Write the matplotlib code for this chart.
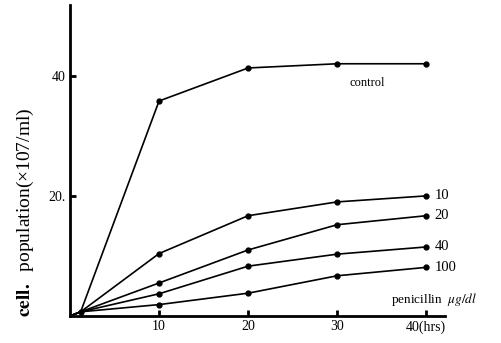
import matplotlib.pyplot as plt

plt.rcParams['font.family'] = ['Liberation Serif', 'DejaVu Serif']
plt.rcParams['mathtext.fontset'] = 'stix'

# === Données ===
hours = [0, 10, 20, 30, 40]
control = [0, 35.8, 41.3, 42.0, 42.0]
pen_10 = [0, 10.4, 16.7, 19.0, 20.0]
pen_20 = [0, 5.5, 11.0, 15.2, 16.7]
pen_40 = [0, 3.7, 8.3, 10.3, 11.5]
pen_100 = [0, 1.9, 3.8, 6.7, 8.1]
series = [control, pen_10, pen_20, pen_40, pen_100]
end_labels = ["10", "20", "40", "100"]
start_x, start_y = 1.2, 0.7
xticks = [10, 20, 30, 40]
xtick_labels = ["10", "20", "30", "40(hrs)"]
yticks = [20, 40]
ytick_labels = ["20.", "40"]

fig = plt.figure(figsize=(5.02, 3.43), dpi=100)
ax = fig.add_axes([0.1394, 0.0787, 0.747, 0.907])

for ys in series:
    ax.plot(hours[1:], ys[1:], color='black', lw=1.2, marker='o', ms=3.5, zorder=3)
    ax.plot([hours[0], start_x, hours[1]], [ys[0], start_y, ys[1]], color='black', lw=1.2)
ax.plot(start_x, start_y, 'o', color='black', ms=3.5)

ax.set_xlim(0, 42.1)
ax.set_ylim(0, 51.8)
for s in ['top', 'right']:
    ax.spines[s].set_visible(False)
for s in ['left', 'bottom']:
    ax.spines[s].set_linewidth(2)

ax.set_xticks(xticks)
ax.set_xticklabels(xtick_labels, fontsize=10)
ax.set_yticks(yticks)
ax.set_yticklabels(ytick_labels, fontsize=10)
ax.tick_params(direction='in', length=4, width=2, pad=3)

ax.text(33.4, 38.8, "control", fontsize=9, ha='center', va='center')
for lab, ys in zip(end_labels, series[1:]):
    ax.text(40.9, ys[-1], lab, fontsize=10.5, ha='left', va='center')
ax.text(36.0, 2.8, r"penicillin  $\mu g/dl$", fontsize=9.5, ha='left', va='center', clip_on=False)

fig.text(0.05, 0.382, r"$\mathbf{cell.}$  population(×107/ml)", rotation=90,
         fontsize=14, ha='center', va='center')

fig.savefig("out.png", dpi=100)
